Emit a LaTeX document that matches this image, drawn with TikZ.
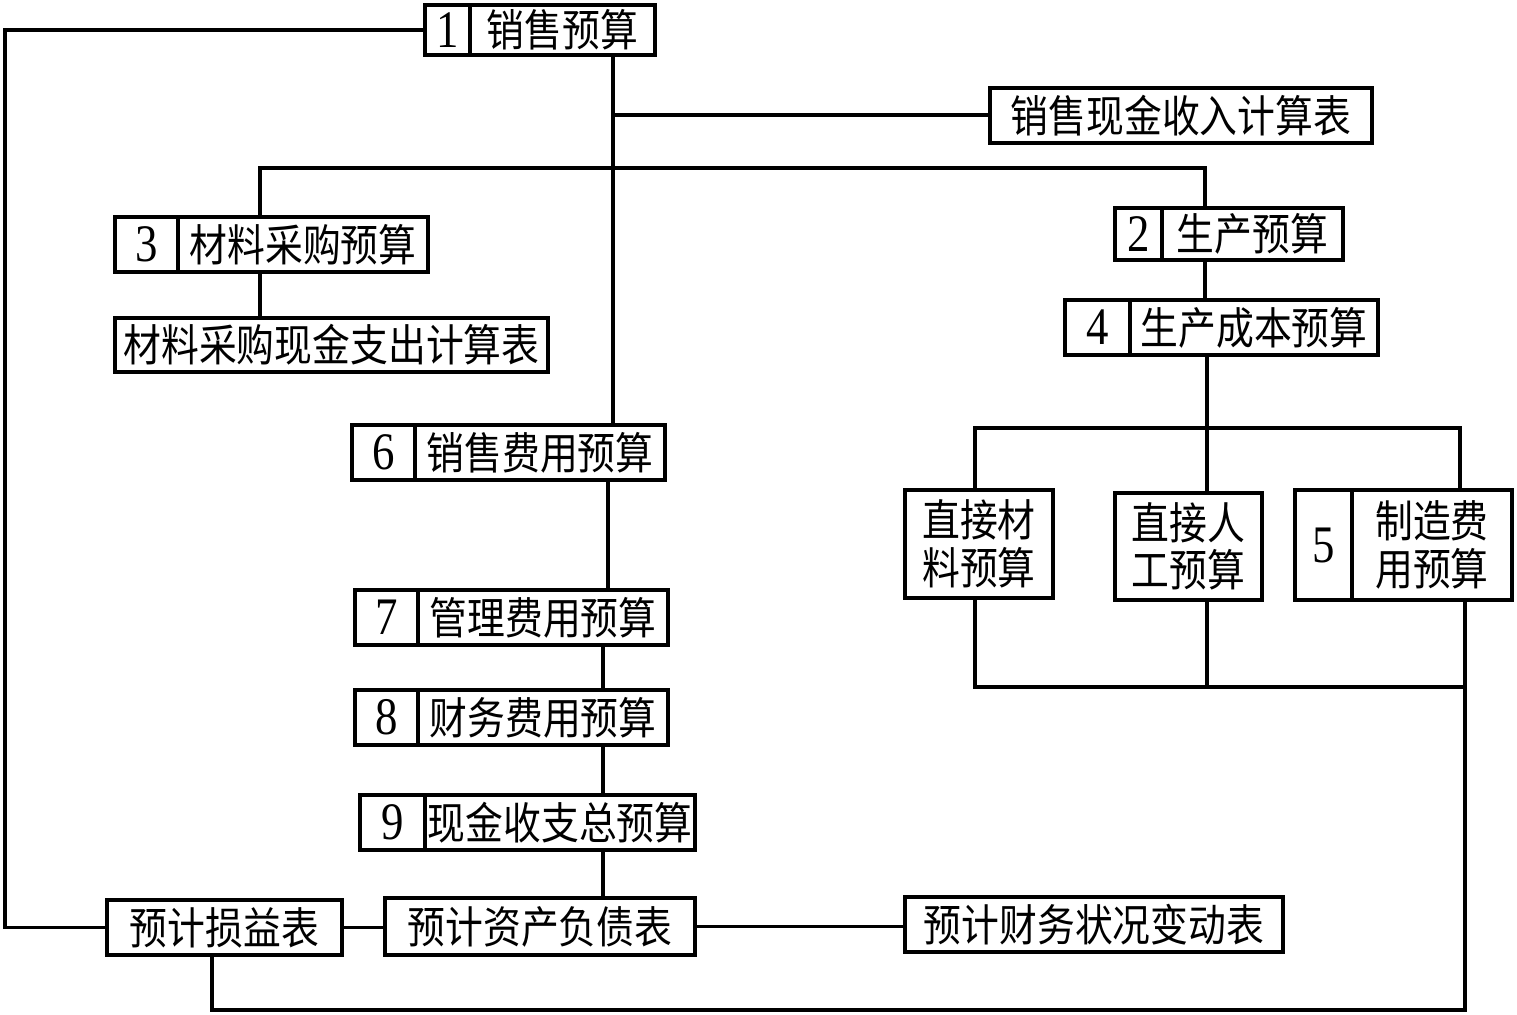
\documentclass[tikz,border=0pt]{standalone}
\usepackage{fontspec}
\setmainfont{Liberation Serif}
\newfontfamily\cjk[FakeStretch=0.86]{Noto Sans CJK SC}
\newfontfamily\numfont[FakeStretch=0.85]{Liberation Serif}
\usetikzlibrary{positioning}

\begin{document}
\begin{tikzpicture}[x=0.01cm, y=-0.01cm, line width=1pt,
    box/.style={rectangle, draw, inner sep=0pt, outer sep=0pt, align=center,
        font=\fontsize{12.5}{13.5}\cjk\selectfont},
    numbox/.style={box, font=\fontsize{15}{16}\numfont\selectfont}]
        \useasboundingbox (0,0) rectangle (1517,1015);

        % Nodes
        \node (n1) [numbox, minimum width=0.45cm, minimum height=0.5cm] at (447.5,30) {1};
        \node (b1) [box, minimum width=1.85cm, minimum height=0.5cm, right=0pt of n1] {销售预算};
        \node (cashin) [box, minimum width=3.82cm, minimum height=0.55cm] at (1181,115.5) {销售现金收入计算表};
        \node (n3) [numbox, minimum width=0.63cm, minimum height=0.55cm] at (146.5,244.5) {3};
        \node (b3) [box, minimum width=2.5cm, minimum height=0.55cm, right=0pt of n3] {材料采购预算};
        \node (matcash) [box, minimum width=4.33cm, minimum height=0.54cm] at (331.5,345) {材料采购现金支出计算表};
        \node (n2) [numbox, minimum width=0.47cm, minimum height=0.52cm] at (1138.5,234) {2};
        \node (b2) [box, minimum width=1.81cm, minimum height=0.52cm, right=0pt of n2] {生产预算};
        \node (n4) [numbox, minimum width=0.65cm, minimum height=0.55cm] at (1097.5,327.5) {4};
        \node (b4) [box, minimum width=2.48cm, minimum height=0.55cm, right=0pt of n4] {生产成本预算};
        \node (dm) [box, minimum width=1.48cm, minimum height=1.08cm] at (979,544) {直接材\\料预算};
        \node (dl) [box, minimum width=1.47cm, minimum height=1.07cm] at (1188.5,546.5) {直接人\\工预算};
        \node (n5) [numbox, minimum width=0.57cm, minimum height=1.1cm] at (1323.5,545) {5};
        \node (b5) [box, minimum width=1.6cm, minimum height=1.1cm, right=0pt of n5] {制造费\\用预算};
        \node (n6) [numbox, minimum width=0.63cm, minimum height=0.55cm] at (383.5,452.5) {6};
        \node (b6) [box, minimum width=2.5cm, minimum height=0.55cm, right=0pt of n6] {销售费用预算};
        \node (n7) [numbox, minimum width=0.63cm, minimum height=0.55cm] at (386.5,617.5) {7};
        \node (b7) [box, minimum width=2.5cm, minimum height=0.55cm, right=0pt of n7] {管理费用预算};
        \node (n8) [numbox, minimum width=0.63cm, minimum height=0.55cm] at (386.5,717.5) {8};
        \node (b8) [box, minimum width=2.5cm, minimum height=0.55cm, right=0pt of n8] {财务费用预算};
        \node (n9) [numbox, minimum width=0.65cm, minimum height=0.55cm] at (392.5,822.5) {9};
        \node (b9) [box, minimum width=2.7cm, minimum height=0.55cm, right=0pt of n9] {现金收支总预算};
        \node (income) [box, minimum width=2.35cm, minimum height=0.55cm] at (224.5,927.5) {预计损益表};
        \node (balance) [box, minimum width=3.1cm, minimum height=0.57cm] at (540,926.5) {预计资产负债表};
        \node (change) [box, minimum width=3.78cm, minimum height=0.55cm] at (1094,924.5) {预计财务状况变动表};

        % Junctions
        \coordinate (trunk) at (613,115);
        \coordinate (top3) at (260,168);
        \coordinate (top2) at (1205,168);
        \coordinate (mid) at (1207,428);
        \coordinate (c4l) at (975,428);
        \coordinate (c4r) at (1460,428);
        \coordinate (bl) at (975,687);
        \coordinate (br) at (1465,687);
        \coordinate (corner) at (1465,1010);
        \coordinate (corner2) at (212,1010);
        \coordinate (col7) at (608,0);
        \coordinate (col9) at (603,0);

        % Lines
        \draw (n1.west) -- ++(-420,0) |- (income.west);
        \draw (b1.south -| trunk) -- (b6.north -| trunk);
        \draw (trunk) -- (cashin.west |- trunk);
        \draw (b3.north -| top3) -- (top3) -- (top2) -- (b2.north -| top2);
        \draw (b3.south -| top3) -- (matcash.north -| top3);
        \draw (b2.south -| top2) -- (b4.north -| top2);
        \draw (b4.south -| mid) -- (dl.north -| mid);
        \draw (dm.north -| c4l) -- (c4l) -- (c4r) -- (b5.north -| c4r);
        \draw (dm.south -| bl) -- (bl) -- (br);
        \draw (dl.south -| mid) -- (mid |- bl);
        \draw (b5.south -| br) -- (corner) -- (corner2) -- (income.south -| corner2);
        \draw (b6.south -| col7) -- (b7.north -| col7);
        \draw (b7.south -| col9) -- (b8.north -| col9);
        \draw (b8.south -| col9) -- (b9.north -| col9);
        \draw (b9.south -| col9) -- (balance.north -| col9);
        \draw (income.east) -- (balance.west |- income.east);
        \draw (balance.east) -- (change.west |- balance.east);
    \end{tikzpicture}
\end{document}
